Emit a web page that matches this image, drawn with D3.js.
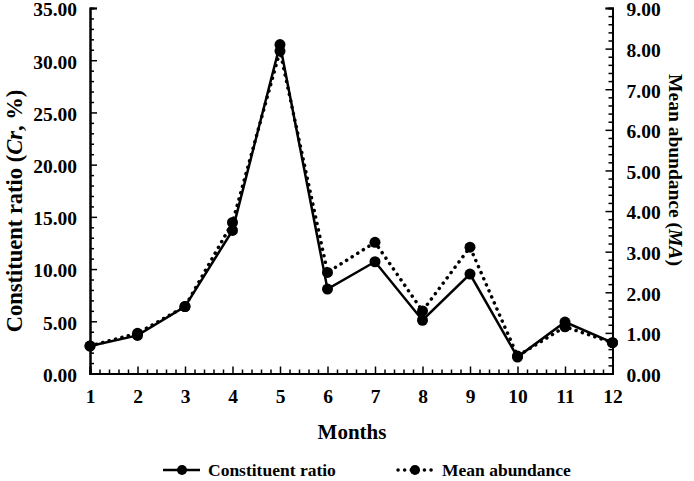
<!DOCTYPE html>
<html><head><meta charset="utf-8">
<script src="https://cdn.jsdelivr.net/npm/d3@7"></script>
<style>body{margin:0;background:#fff}svg{display:block}svg text{font-family:"Liberation Serif","Times New Roman",Times,Tinos,"Noto Serif","DejaVu Serif",serif !important;font-weight:bold;fill:#000}</style>
</head><body><svg id="c" width="694" height="481"></svg>
<script>
const months = [1,2,3,4,5,6,7,8,9,10,11,12];
const constituentRatio = [2.63,3.65,6.41,13.7,31.5,8.08,10.7,5.1,9.52,1.57,4.93,2.95];
const meanAbundance = [0.68,0.99,1.65,3.72,7.94,2.49,3.23,1.54,3.11,0.43,1.15,0.76];
const leftTicks = [0,5,10,15,20,25,30,35];
const rightTicks = [0,1,2,3,4,5,6,7,8,9];

const svg = d3.select("#c");
const L=90,R=612.5,T=8,B=373.5;
const x = d3.scaleLinear().domain([1,12]).range([L,R]);
const yL = d3.scaleLinear().domain([0,35]).range([B,T]);
const yR = d3.scaleLinear().domain([0,9]).range([B,T]);

const g = svg.append("g");
const xMinor = d3.range(1,12.001,0.2).filter(v=>Math.abs(v-Math.round(v))>1e-6);
const lMinor = d3.range(0,35.001,1).filter(v=>v%5!==0);
const rMinor = d3.range(0,9.001,0.2).filter(v=>Math.abs(v-Math.round(v))>1e-6);

g.append("g").attr("transform",`translate(0,${B})`).call(d3.axisBottom(x).tickValues(months).tickSize(-7).tickPadding(16).tickFormat(d3.format("d")));
g.append("g").attr("transform",`translate(0,${B})`).call(d3.axisBottom(x).tickValues(xMinor).tickSize(-4).tickFormat(""));
g.append("g").attr("class","yax").attr("transform",`translate(${L},0)`).call(d3.axisLeft(yL).tickValues(leftTicks).tickSize(-7).tickPadding(13).tickFormat(d3.format(".2f")));
g.append("g").attr("transform",`translate(${L},0)`).call(d3.axisLeft(yL).tickValues(lMinor).tickSize(-4).tickFormat(""));
g.append("g").attr("class","yax").attr("transform",`translate(${R},0)`).call(d3.axisRight(yR).tickValues(rightTicks).tickSize(-7).tickPadding(14).tickFormat(d3.format(".2f")));
g.append("g").attr("transform",`translate(${R},0)`).call(d3.axisRight(yR).tickValues(rMinor).tickSize(-4).tickFormat(""));
g.selectAll("g").attr("font-family",null);
g.selectAll(".domain").attr("stroke","#000").attr("stroke-width",2);
g.selectAll(".tick line").attr("stroke","#000").attr("stroke-width",1.5);
g.selectAll(".tick text").style("font-size","19.5px");
g.selectAll(".yax .tick text").attr("dy","0.4em");

const lineL = d3.line().x((d,i)=>x(months[i])).y(d=>yL(d));
const lineR = d3.line().x((d,i)=>x(months[i])).y(d=>yR(d));
svg.append("path").datum(meanAbundance).attr("d",lineR).attr("fill","none").attr("stroke","#000").attr("stroke-width",3.5).attr("stroke-linecap","round").attr("stroke-dasharray","0.1,6.5");
svg.append("path").datum(constituentRatio).attr("d",lineL).attr("fill","none").attr("stroke","#000").attr("stroke-width",2.5);
svg.append("g").selectAll("circle").data(meanAbundance).join("circle").attr("cx",(d,i)=>x(months[i])).attr("cy",d=>yR(d)).attr("r",5.5).attr("fill","#000");
svg.append("g").selectAll("circle").data(constituentRatio).join("circle").attr("cx",(d,i)=>x(months[i])).attr("cy",d=>yL(d)).attr("r",5.5).attr("fill","#000");

const lt = svg.append("text").attr("transform","translate(22,211) rotate(-90)").attr("text-anchor","middle").style("font-size","22.5px");
lt.append("tspan").text("Constituent ratio (");
lt.append("tspan").style("font-style","italic").text("Cr");
lt.append("tspan").text(", %)");
const rt = svg.append("text").attr("transform","translate(669,170) rotate(90)").attr("text-anchor","middle").style("font-size","19.5px");
rt.append("tspan").text("Mean abundance (");
rt.append("tspan").style("font-style","italic").text("MA");
rt.append("tspan").text(")");
svg.append("text").attr("x",352).attr("y",439).attr("text-anchor","middle").style("font-size","21px").text("Months");

const leg = svg.append("g");
leg.append("line").attr("x1",163).attr("x2",200).attr("y1",470).attr("y2",470).attr("stroke","#000").attr("stroke-width",2.5);
leg.append("circle").attr("cx",182).attr("cy",470).attr("r",5).attr("fill","#000");
leg.append("text").attr("x",208).attr("y",476).style("font-size","17.5px").text("Constituent ratio");
leg.append("line").attr("x1",398).attr("x2",433).attr("y1",470).attr("y2",470).attr("stroke","#000").attr("stroke-width",3.5).attr("stroke-linecap","round").attr("stroke-dasharray","0.1,6.5");
leg.append("circle").attr("cx",415).attr("cy",470).attr("r",5).attr("fill","#000");
leg.append("text").attr("x",442).attr("y",476).style("font-size","17.5px").text("Mean abundance");
</script></body></html>
